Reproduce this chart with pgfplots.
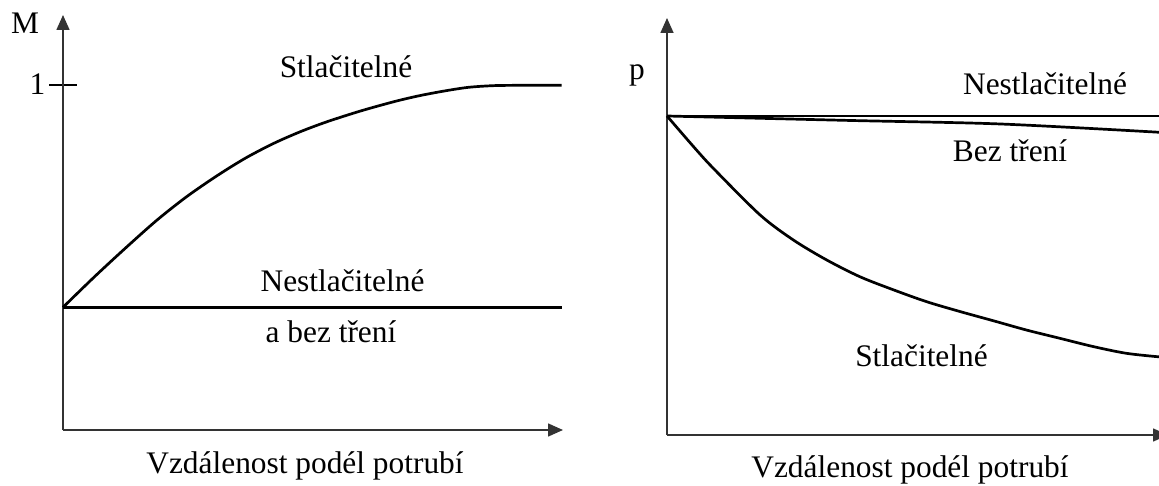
\documentclass[border=0pt]{standalone}
\usepackage{fontspec}
\setmainfont{Liberation Serif}
\usepackage{pgfplots}
\pgfplotsset{compat=1.18}
\usetikzlibrary{arrows.meta}
\begin{document}
\fontsize{31.5}{36}\selectfont
\begin{tikzpicture}
\useasboundingbox (0,0) rectangle (1159bp,486bp);
\pgfplotsset{
  myax/.style={
    scale only axis, clip=false,
    axis lines=left,
    axis line style={black!80, line width=1.6bp, -{Triangle[length=15bp,width=13bp]}},
    xtick=\empty,
    xmin=0, ymin=0,
    anchor=south west,
    every node/.append style={font=\fontsize{31.5}{36}\selectfont},
  },
  curve/.style={black, line width=2.7bp, no marks},
}
% Left panel
\begin{axis}[myax,
  at={(63bp,56bp)}, width=500bp, height=415bp,
  xmax=10, ymax=1.204,
  ytick={1}, yticklabels={},
  major tick length=28bp, tick align=center,
  tick style={black, line width=2bp},
]
\addplot[curve, smooth] coordinates {
(0,0.356) (0.64,0.446) (1.274,0.531) (1.88,0.609) (2.474,0.677) (3.074,0.737)
(3.64,0.788) (4.206,0.831) (4.74,0.865) (5.274,0.894) (5.94,0.925) (6.606,0.952)
(7.10,0.969) (7.606,0.983) (8.10,0.994) (8.606,0.999) (9.14,1.0) (9.974,1.0)};
\addplot[curve] coordinates {(0,0.356) (9.974,0.356)};
\node[anchor=base] at (axis cs:-0.76,1.149) {M};
\node[anchor=base] at (axis cs:-0.51,0.972) {1};
\node[anchor=base] at (axis cs:5.66,1.024) {Stlačitelné};
\node[anchor=base] at (axis cs:5.59,0.403) {Nestlačitelné};
\node[anchor=base] at (axis cs:5.36,0.255) {a bez tření};
\node[anchor=base] at (axis cs:4.84,-0.125) {Vzdálenost podél potrubí};
\end{axis}
% Right panel
\begin{axis}[myax,
  at={(667bp,51bp)}, width=501bp, height=417bp,
  xmax=10.02, ymax=1.3072,
  ytick=\empty,
]
\addplot[curve] coordinates {(0,1.0) (9.84,1.0)};
\addplot[curve, smooth] coordinates {(0,1.0) (3.66,0.986) (6.66,0.975) (9.84,0.949)};
\addplot[curve, smooth] coordinates {
(0,1.0) (0.53,0.904) (0.92,0.837) (1.86,0.690) (2.53,0.611) (3.19,0.549)
(3.86,0.496) (4.53,0.455) (5.19,0.418) (5.86,0.387) (6.53,0.358) (7.19,0.329)
(7.86,0.303) (8.53,0.277) (9.19,0.256) (9.84,0.245)};
\node[anchor=base] at (axis cs:-0.6,1.113) {p};
\node[anchor=base] at (axis cs:7.56,1.066) {Nestlačitelné};
\node[anchor=base] at (axis cs:6.86,0.857) {Bez tření};
\node[anchor=base] at (axis cs:5.09,0.216) {Stlačitelné};
\node[anchor=base] at (axis cs:4.86,-0.132) {Vzdálenost podél potrubí};
\end{axis}
\end{tikzpicture}
\end{document}
